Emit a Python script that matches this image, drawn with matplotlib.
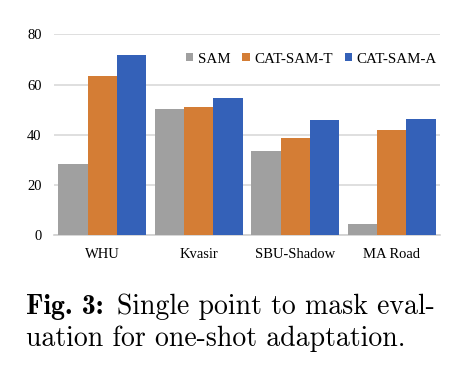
import numpy as np
import matplotlib.pyplot as plt

categories = ['WHU', 'Kvasir', 'SBU-Shadow', 'MA Road']
sam = [28.3, 50.3, 33.5, 4.4]
cat_sam_t = [63.3, 51.0, 38.8, 42.1]
cat_sam_a = [71.7, 54.8, 45.8, 46.1]
series_names = ['SAM', 'CAT-SAM-T', 'CAT-SAM-A']
colors = ['#A0A0A0', '#D47D35', '#3461B8']

fig = plt.figure(figsize=(4.62, 3.74), dpi=100)
ax = fig.add_axes([54/462, 1 - 235.3/374, 386/462, 201/374])

x = np.arange(len(categories))
w = 0.305
for k, (vals, name, c) in enumerate(zip([sam, cat_sam_t, cat_sam_a], series_names, colors)):
    ax.bar(x + (k - 1)*w, vals, w, color=c, label=name, zorder=3)

ax.set_xlim(-0.5, 3.5)
ax.set_ylim(0, 80)
ax.set_yticks([0, 20, 40, 60, 80])
ax.set_xticks(x)
ax.set_xticklabels(categories, fontsize=10.5, family='Liberation Serif')
for lab in ax.get_yticklabels():
    lab.set_family('Liberation Serif')
    lab.set_fontsize(10.5)
ax.tick_params(length=0)
ax.tick_params(axis='x', pad=9)
ax.tick_params(axis='y', pad=9)
ax.grid(axis='y', color='#D9D9D9', linewidth=1.2, zorder=0)
for s in ['top', 'right', 'left']:
    ax.spines[s].set_visible(False)
ax.spines['bottom'].set_color('#D0D0D0')
ax.spines['bottom'].set_linewidth(1.2)

ax.legend(loc='center right', bbox_to_anchor=(0.992, 0.877), ncol=3, frameon=False,
          prop={'family': 'Liberation Serif', 'size': 10.8},
          handlelength=0.5, handleheight=0.5, handletextpad=0.3,
          columnspacing=0.8, borderaxespad=0, borderpad=0)

# caption
fig.text(26/462, 1 - 314/374, 'Fig. 3:', family='cmb10', fontsize=20, va='baseline')
fig.text(435/462, 1 - 314/374, 'Single point to mask eval-', family='cmr10',
         fontsize=20, va='baseline', ha='right')
fig.text(26/462, 1 - 346/374, 'uation for one-shot adaptation.', family='cmr10',
         fontsize=20, va='baseline')

fig.savefig('out.png', dpi=100)
